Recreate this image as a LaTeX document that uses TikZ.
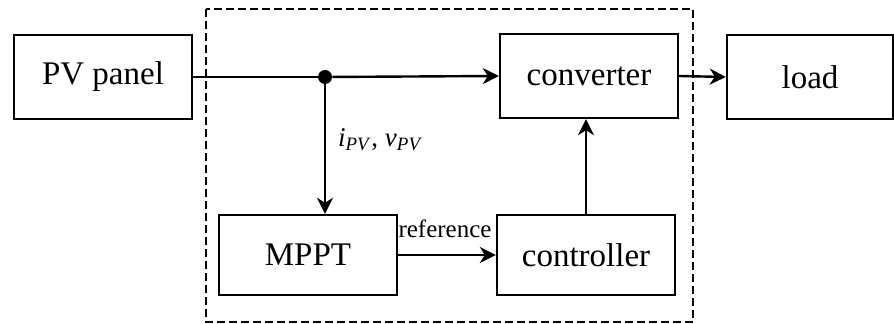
\documentclass[tikz,border=0pt]{standalone}
\usepackage{fontspec}
\setmainfont{Liberation Serif}
\usepackage{tikz}
\usetikzlibrary{arrows.meta}

\tikzset{
  block/.style={draw, line width=1.2pt, minimum width=89pt, minimum height=42pt, font=\fontsize{16.5}{18}\selectfont},
  flow/.style={line width=1.2pt, -{Stealth[length=8pt,width=8pt,inset=2.5pt]}}
}

\begin{document}
\begin{tikzpicture}[x=0.5pt,y=-0.5pt]
  \useasboundingbox (0,0) rectangle (894,324);

  % MPPT unit (dashed)
  \draw[line width=1.2pt, dash pattern=on 4pt off 2pt] (206,9) rectangle (693,322);

  % Blocks
  \node[block] (pv) at (103,77) {PV panel};
  \node[block] (conv) at (589,76) {converter};
  \node[block, minimum width=83pt] (load) at (810,77) {load};
  \node[block, minimum height=40pt] (mppt) at (308,255) {MPPT};
  \node[block, minimum height=40pt] (ctrl) at (586,255) {controller};

  % Junction
  \node[circle, fill, inner sep=0pt, minimum size=7pt] (j) at (325,77) {};

  % Arrows
  \draw[line width=1.2pt] (pv.east) -- (j);
  \draw[flow] (j) -- (conv.west);
  \draw[flow] (conv.east) -- (load.west);
  \draw[flow] (j) -- (mppt.north -| j);
  \draw[flow] (mppt.east) -- (ctrl.west);
  \draw[flow] (ctrl.north) -- (conv.south -| ctrl.north);

  % Labels
  \node[anchor=west, font=\fontsize{13.5}{15}\selectfont] at (331,140) {\textit{i}\textsubscript{\textit{PV}}, \textit{v}\textsubscript{\textit{PV}}};
  \node[anchor=south, font=\fontsize{12.5}{14}\selectfont, inner sep=1pt] at (445,240) {reference};
\end{tikzpicture}
\end{document}
